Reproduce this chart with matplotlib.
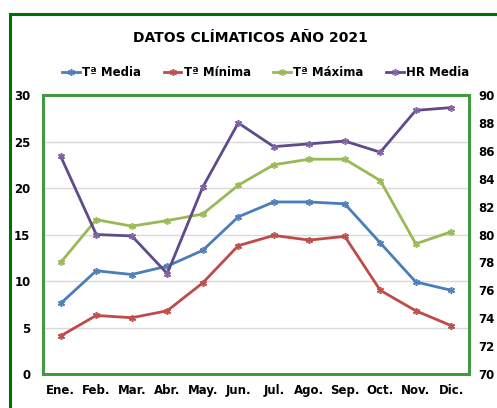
import matplotlib
matplotlib.use('Agg')
import matplotlib.pyplot as plt
from matplotlib.patches import Rectangle

months = ["Ene.", "Feb.", "Mar.", "Abr.", "May.", "Jun.", "Jul.", "Ago.", "Sep.", "Oct.", "Nov.", "Dic."]
t_media = [7.6, 11.1, 10.7, 11.6, 13.3, 16.9, 18.5, 18.5, 18.3, 14.1, 9.9, 9.0]
t_minima = [4.1, 6.3, 6.05, 6.8, 9.8, 13.8, 14.9, 14.4, 14.8, 9.0, 6.8, 5.2]
t_maxima = [12.0, 16.6, 15.9, 16.5, 17.2, 20.3, 22.5, 23.1, 23.1, 20.8, 14.0, 15.3]
hr_media = [85.6, 80.0, 79.9, 77.2, 83.4, 88.0, 86.3, 86.5, 86.7, 85.9, 88.9, 89.1]

fig = plt.figure(figsize=(4.97, 4.08), dpi=100)
ax = fig.add_axes([0.0865, 0.0833, 0.8572, 0.6838])
ax2 = ax.twinx()

x = range(len(months))
style = dict(linewidth=2.0, marker=(6, 2, 0), markersize=5, markeredgewidth=1.1)
l1, = ax.plot(x, t_media, color='#4a7ebb', mec='#4f81bd', label='Tª Media', **style)
l2, = ax.plot(x, t_minima, color='#be4b48', mec='#c0504d', label='Tª Mínima', **style)
l3, = ax.plot(x, t_maxima, color='#98b954', mec='#9bbb59', label='Tª Máxima', **style)
l4, = ax2.plot(x, hr_media, color='#5f4a8b', mec='#8064a2', label='HR Media', **style)

ax.set_xlim(-0.5, 11.5)
ax.set_ylim(0, 30)
ax2.set_ylim(70, 90)
ax.set_yticks(range(0, 31, 5))
ax2.set_yticks(range(70, 91, 2))
ax.set_xticks(list(x))
ax.set_xticklabels(months)
ax.grid(axis='y', color='#d9d9d9', linewidth=1)
ax.set_axisbelow(True)

for a in (ax, ax2):
    for s in a.spines.values():
        s.set_color('#3f9a3f')
        s.set_linewidth(2)
    a.tick_params(length=0, labelsize=8.5)
    for lab in a.get_xticklabels() + a.get_yticklabels():
        lab.set_fontweight('bold')
ax.tick_params(axis='y', pad=9)
ax.tick_params(axis='x', pad=7)
ax2.tick_params(axis='y', pad=7)

fig.text(0.503, 0.907, 'DATOS CLÍMATICOS AÑO 2021', ha='center', va='center',
         fontsize=10, fontweight='bold')
fig.legend(handles=[l1, l2, l3, l4], loc='center', bbox_to_anchor=(0.535, 0.823),
           ncol=4, frameon=False, handlelength=1.5, handletextpad=0.2,
           columnspacing=1.9, prop={'weight': 'bold', 'size': 8.5})

fig.patches.append(Rectangle((0.0201, -0.2), 1.5, 1.1657, transform=fig.transFigure,
                             fill=False, edgecolor='#007000', linewidth=2.2))

plt.savefig('out.png', dpi=100)
